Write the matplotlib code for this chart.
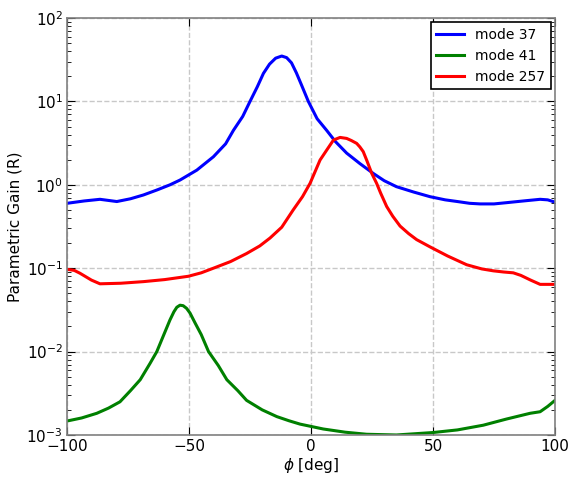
import numpy as np
import matplotlib
matplotlib.use("Agg")
import matplotlib.pyplot as plt

# valeurs (phi en degres, gain R)
phi_37 = [-100, -93, -86.5, -79.6, -74, -68.7, -63, -57.8, -53.7, -46.8, -40,
          -35, -31.8, -28, -25, -22, -19.5, -17, -14.5, -12, -10, -8, -6, -4,
          -1.1, 2.5, 6.4, 10, 14.6, 20, 25.5, 30, 35, 42, 48.8, 55, 60, 65,
          69.3, 75, 80, 87, 93.9, 97, 100]
gain_37 = [0.60, 0.64, 0.67, 0.63, 0.68, 0.755, 0.87, 1.0, 1.14, 1.5, 2.17,
           3.1, 4.5, 6.6, 10, 15, 21.7, 28, 33, 35, 33.5, 29, 22, 16, 10, 6.2,
           4.5, 3.3, 2.4, 1.8, 1.37, 1.12, 0.95, 0.82, 0.72, 0.66, 0.63, 0.60,
           0.59, 0.59, 0.61, 0.64, 0.67, 0.66, 0.62]

phi_41 = [-100, -94, -87.8, -83, -78.3, -74, -70, -66, -63.2, -60.5, -57.8,
          -56.2, -55, -53.7, -52.4, -51, -49.6, -47.5, -45, -42, -38, -34.5,
          -30, -26.4, -20, -14, -9, -4.5, 5, 14, 22.8, 35, 50, 60, 70.6, 80,
          89.8, 93.9, 97, 100]
gain_41 = [0.00147, 0.0016, 0.00182, 0.0021, 0.0025, 0.0034, 0.0046, 0.0072,
           0.01, 0.0155, 0.024, 0.030, 0.034, 0.036, 0.0355, 0.033, 0.029,
           0.022, 0.016, 0.01, 0.0068, 0.0046, 0.0034, 0.0026, 0.0020, 0.00166,
           0.00148, 0.00135, 0.00118, 0.00108, 0.00102, 0.001, 0.00107, 0.00115,
           0.00131, 0.00155, 0.00182, 0.0019, 0.0022, 0.0026]

phi_257 = [-100, -97, -94.7, -90, -86.5, -78, -68.7, -60, -50.3, -45, -40,
           -33, -26.4, -21, -16.8, -12, -7.3, -3.5, -0.4, 3.7, 6.4, 9.2, 11.9,
           14.6, 16.5, 18.7, 20, 21.4, 22.8, 24.9, 26.9, 28.5, 31, 33.5, 36.5,
           40, 43.3, 48.8, 56, 63.8, 70, 74.7, 79, 82.9, 86, 90, 93.9, 100]
gain_257 = [0.097, 0.094, 0.087, 0.072, 0.065, 0.066, 0.069, 0.073, 0.080,
            0.088, 0.1, 0.12, 0.15, 0.185, 0.23, 0.31, 0.50, 0.72, 1.04, 1.98,
            2.6, 3.44, 3.7, 3.6, 3.4, 3.14, 2.85, 2.5, 1.98, 1.37, 1.04, 0.8,
            0.55, 0.42, 0.32, 0.26, 0.22, 0.18, 0.14, 0.11, 0.098, 0.093, 0.09,
            0.088, 0.082, 0.072, 0.064, 0.064]

fig = plt.figure(figsize=(5.69, 4.78), dpi=100)
ax = fig.add_axes([0.1178, 0.09, 0.8576, 0.8723])

ax.plot(phi_37, gain_37, color='blue', lw=2.2, label='mode 37')
ax.plot(phi_41, gain_41, color='green', lw=2.2, label='mode 41')
ax.plot(phi_257, gain_257, color='red', lw=2.2, label='mode 257')

ax.set_yscale('log')
ax.set_xlim(-100, 100)
ax.set_ylim(1e-3, 1e2)
ax.set_xticks([-100, -50, 0, 50, 100])

ax.grid(True, which='major', color='#c8c8c8', linestyle='--', linewidth=1)
ax.tick_params(which='both', direction='in', top=True, right=True,
               labelsize=11, color='black', pad=3)
ax.tick_params(which='major', length=6)
ax.tick_params(which='minor', length=3)
for s in ax.spines.values():
    s.set_color('#808080')
    s.set_linewidth(1.2)

ax.set_xlabel(r'$\phi$ [deg]', fontsize=11, labelpad=1)
ax.set_ylabel('Parametric Gain (R)', fontsize=11, labelpad=3)

leg = ax.legend(loc='upper right', fontsize=10, fancybox=False,
                framealpha=1, edgecolor='black', handlelength=2.0,
                borderaxespad=0.3)
leg.get_frame().set_linewidth(1.2)

fig.savefig('out.png', dpi=100)
